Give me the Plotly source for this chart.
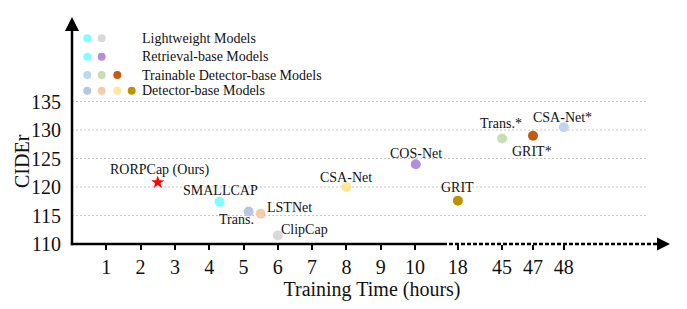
import numpy as np
import plotly.graph_objects as go

# ---------------- data ----------------
models = ["RORPCap (Ours)", "SMALLCAP", "Trans.", "LSTNet", "ClipCap", "CSA-Net",
          "COS-Net", "GRIT", "Trans.*", "GRIT*", "CSA-Net*"]
hours = [2.5, 4.3, 5.15, 5.5, 6.0, 8.0, 10.15, 18, 45, 47, 48]
cider = [120.8, 117.4, 115.7, 115.3, 111.5, 120.0, 124.0, 117.6, 128.5, 129.0, 130.5]
colors = ["#ff0000", "#80ffff", "#b4c7e7", "#f8cbad", "#d9d9d9", "#ffe699",
          "#b48fd6", "#bf9000", "#c5e0b4", "#c55a11", "#bdd7ee"]

tick_hours = [1, 2, 3, 4, 5, 6, 7, 8, 9, 10, 18, 45, 47, 48]
tick_labels = [str(h) for h in tick_hours]
tick_pos = [1, 2, 3, 4, 5, 6, 7, 8, 9, 10, 11.25, 12.54, 13.44, 14.34]
y_ticks = [110, 115, 120, 125, 130, 135]

legend_labels = ["Lightweight Models", "Retrieval-base Models",
                 "Trainable Detector-base Models", "Detector-base Models"]
legend_colors = [["#80ffff", "#d9d9d9"],
                 ["#80ffff", "#b48fd6"],
                 ["#bdd7ee", "#c5e0b4", "#c55a11"],
                 ["#b4c7e7", "#f8cbad", "#ffe699", "#bf9000"]]

# label offsets in pixels (style)
label_shift = [(2, 12), (1, 11), (-12, -8), (29, 6), (27, 6), (0, 10),
               (0, 11), (0, 13), (-1, 15), (-1, -16), (-1, 10)]

# ---------------- layout constants ----------------
FONT = "Liberation Serif"
OFF = 8                      # page body margin
PL, PR, PT, PB = 72, 672, 17, 244   # plot area in page pixels
W, H = 687 - OFF, 309 - OFF
L, T = PL - OFF, PT - OFF
R = W - (PR - OFF)
B = H - (PB - OFF)
PW, PH = PR - PL, PB - PT
XMAX = PW / 34.3
YMIN = 110
YMAX = YMIN + PH / 5.7

xpos = np.interp(hours, [0] + tick_hours, [0] + tick_pos)

fig = go.Figure()

# circles (all but ours)
fig.add_trace(go.Scatter(
    x=xpos[1:], y=cider[1:], mode="markers",
    marker=dict(size=10, color=colors[1:], line=dict(width=0)),
    showlegend=False, hoverinfo="skip", cliponaxis=False))
# our star
fig.add_trace(go.Scatter(
    x=xpos[:1], y=cider[:1], mode="markers",
    marker=dict(size=10, symbol="star", color=colors[0], line=dict(width=0)),
    showlegend=False, hoverinfo="skip", cliponaxis=False))

annotations = []
for name, x, y, (dx, dy) in zip(models, xpos, cider, label_shift):
    annotations.append(dict(x=x, y=y, xref="x", yref="y", text=name, showarrow=False,
                            xshift=dx, yshift=dy, font=dict(family=FONT, size=14, color="#111")))

shapes = []
# gridlines
grid_end = (648 - PL) / 34.3
for v in y_ticks[1:]:
    shapes.append(dict(type="line", xref="x", yref="y", x0=0, x1=grid_end, y0=v, y1=v,
                       line=dict(color="#c8c8c8", width=1, dash="2px,2px"), layer="below"))


def px_x(p):
    return (p - PL) / PW


def px_y(p):
    return (PB - p) / PH


lw = 2.5
# x axis solid part
shapes.append(dict(type="line", xref="paper", yref="paper", x0=px_x(70.8), x1=px_x(443),
                   y0=0, y1=0, line=dict(color="black", width=lw)))
# x axis dotted part
shapes.append(dict(type="line", xref="paper", yref="paper", x0=px_x(443), x1=px_x(658),
                   y0=0, y1=0, line=dict(color="black", width=lw, dash="4px,2px")))
# x arrow head
shapes.append(dict(type="path", xref="paper", yref="paper",
                   path=f"M {px_x(657)},{px_y(244 - 6.5)} L {px_x(670)},{px_y(244)} L {px_x(657)},{px_y(244 + 6.5)} Z",
                   fillcolor="black", line=dict(color="black", width=0)))
# y axis line
shapes.append(dict(type="line", xref="paper", yref="paper", x0=0, x1=0,
                   y0=px_y(245.2), y1=px_y(30), line=dict(color="black", width=lw)))
# y arrow head
shapes.append(dict(type="path", xref="paper", yref="paper",
                   path=f"M {px_x(PL - 7)},{px_y(31)} L {px_x(PL)},{px_y(17)} L {px_x(PL + 7)},{px_y(31)} Z",
                   fillcolor="black", line=dict(color="black", width=0)))

# legend
dot_x = [87.3, 101.7, 117.3, 131.7]
row_y = [38.3, 56.7, 75, 90.7]
for r, (lab, cols) in enumerate(zip(legend_labels, legend_colors)):
    for i, c in enumerate(cols):
        shapes.append(dict(type="circle", xref="paper", yref="paper",
                           xsizemode="pixel", ysizemode="pixel",
                           xanchor=px_x(dot_x[i]), yanchor=px_y(row_y[r]),
                           x0=-4, x1=4, y0=-4, y1=4,
                           fillcolor=c, line=dict(width=0)))
    annotations.append(dict(x=px_x(140), y=px_y(row_y[r]), xref="paper", yref="paper",
                            text=lab, showarrow=False, xanchor="left", yanchor="middle",
                            font=dict(family=FONT, size=14, color="#111")))

# y title
annotations.append(dict(x=px_x(22), y=px_y(161), xref="paper", yref="paper", text="CIDEr",
                        showarrow=False, textangle=-90, xanchor="center", yanchor="middle",
                        font=dict(family=FONT, size=20, color="#111")))

fig.update_layout(
    width=W, height=H, margin=dict(l=L, r=R, t=T, b=B, autoexpand=False),
    plot_bgcolor="white", paper_bgcolor="white",
    font=dict(family=FONT, color="#111"),
    xaxis=dict(range=[0, XMAX], tickvals=tick_pos, ticktext=tick_labels,
               ticks="outside", ticklen=5, tickwidth=1.5, tickcolor="black",
               showgrid=False, zeroline=False, showline=False, automargin=False,
               tickfont=dict(family=FONT, size=20, color="#111"),
               title=dict(text="Training Time (hours)", standoff=3,
                          font=dict(family=FONT, size=20, color="#111"))),
    yaxis=dict(range=[YMIN, YMAX], tickvals=y_ticks,
               ticks="outside", ticklen=6, tickcolor="rgba(0,0,0,0)",
               showgrid=False, zeroline=False, showline=False, automargin=False,
               tickfont=dict(family=FONT, size=20, color="#111")),
    shapes=shapes, annotations=annotations, showlegend=False,
)

fig.write_html("out.html")
